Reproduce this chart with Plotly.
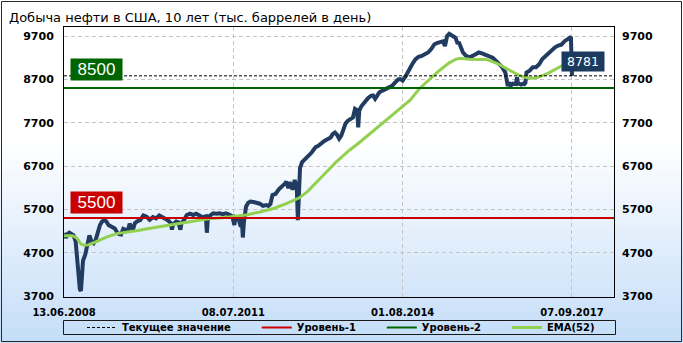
import plotly.graph_objects as go

# ---------------- data ----------------
title_text = "Добыча нефти в США, 10 лет (тыс. баррелей в день)"

# week index since 13.06.2008 and weekly production (thousand barrels/day)
prod_weeks = [0, 2, 3, 5, 7, 9, 11, 12, 13, 14, 15, 16, 17, 18, 20, 22, 24, 26, 28, 30,
              32, 34, 36, 38, 40, 42, 45, 48, 50, 52, 54, 56, 58, 60, 62, 64, 65, 67, 69, 72,
              75, 78, 81, 84, 87, 90, 93, 96, 99, 101, 102, 103, 106, 108, 110, 111, 114, 116, 119, 122,
              125, 128, 131, 134, 135, 136, 139, 141, 144, 147, 150, 153, 156, 159, 161, 162, 165, 167, 168, 169,
              170, 172, 174, 176, 179, 182, 185, 188, 191, 193, 195, 197, 200, 203, 205, 207, 209, 210, 212, 213,
              215, 216, 218, 219, 220, 221, 222, 223, 225, 228, 231, 234, 236, 238, 240, 243, 246, 249, 252, 254,
              256, 258, 260, 262, 264, 266, 268, 271, 273, 275, 277, 278, 279, 281, 284, 287, 290, 292, 294, 296,
              298, 301, 304, 307, 310, 313, 316, 318, 320, 323, 326, 329, 332, 335, 338, 341, 344, 347, 350, 353,
              356, 358, 360, 362, 364, 366, 368, 370, 372, 373, 375, 377, 380, 383, 386, 389, 392, 395, 398, 402,
              405, 408, 411, 414, 417, 419, 421, 422, 424, 427, 428, 429, 430, 432, 434, 435, 436, 437, 440, 443,
              446, 449, 452, 455, 458, 461, 464, 467, 470, 473, 476, 478, 479, 480]
prod_values = [5150, 5040, 5120, 5160, 5130, 5100, 4960, 4700, 4300, 3950, 3850, 3820, 4300, 4520, 4650, 4880, 5100, 4960, 4920, 5000,
               5220, 5340, 5420, 5450, 5420, 5340, 5300, 5260, 5170, 5130, 5120, 5250, 5230, 5180, 5370, 5260, 5220, 5380, 5420, 5450,
               5560, 5530, 5460, 5520, 5490, 5560, 5530, 5480, 5430, 5380, 5230, 5350, 5420, 5400, 5230, 5380, 5480, 5570, 5600, 5570,
               5600, 5560, 5520, 5540, 5160, 5520, 5580, 5610, 5600, 5610, 5590, 5610, 5580, 5540, 5340, 5520, 5480, 5300, 5480, 5050,
               5400, 5760, 5850, 5880, 5870, 5850, 5830, 5780, 5800, 5780, 5820, 6030, 6060, 6160, 6200, 6240, 6300, 6340, 6190, 6320,
               6250, 6150, 6380, 6280, 6160, 5450, 6200, 6650, 6790, 6860, 6940, 7010, 7080, 7140, 7160, 7230, 7280, 7320, 7360, 7440,
               7470, 7420, 7330, 7400, 7560, 7680, 7740, 7780, 7820, 8020, 7990, 7590, 7980, 8080, 8190, 8260, 8320, 8330, 8250, 8310,
               8400, 8440, 8470, 8510, 8550, 8630, 8700, 8700, 8670, 8780, 8930, 9050, 9160, 9220, 9240, 9280, 9320, 9400, 9510, 9540,
               9570, 9575, 9470, 9700, 9750, 9730, 9690, 9660, 9520, 9560, 9440, 9320, 9240, 9210, 9240, 9270, 9320, 9300, 9270, 9240,
               9200, 9130, 9050, 8980, 8860, 8590, 8600, 8550, 8600, 8590, 8750, 8600, 8600, 8580, 8600, 8590, 8620, 8860, 8900, 8980,
               8980, 9050, 9170, 9240, 9320, 9400, 9440, 9480, 9500, 9580, 9630, 9660, 9680, 8781]

# EMA(52)
ema_weeks = [0, 8, 12, 16, 19, 23, 30, 40, 50, 60, 70, 80, 97, 113, 128, 135, 154, 166, 172, 185,
             198, 210, 216, 222, 230, 238, 248, 257, 264, 270, 278, 286, 294, 301, 308, 317, 327, 336, 346, 355,
             364, 370, 374, 383, 393, 399, 405, 410, 415, 420, 424, 430, 434, 440, 446, 452, 456, 462, 468, 474, 480]
ema_values = [5090, 5090, 5040, 4900, 4870, 4880, 4950, 5060, 5140, 5170, 5210, 5260, 5330, 5390, 5450, 5475, 5520, 5546, 5570, 5640,
              5720, 5830, 5900, 5960, 6110, 6300, 6560, 6790, 6950, 7070, 7220, 7380, 7540, 7680, 7840, 8010, 8220, 8490, 8720, 8910,
              9080, 9160, 9185, 9165, 9160, 9160, 9110, 9060, 8990, 8920, 8862, 8790, 8760, 8723, 8735, 8790, 8823, 8900, 8990, 9060, 9120]

level_1 = 5500
level_2 = 8500
current_value = 8781

x_tick_weeks = [0, 160, 320, 480]
x_tick_labels = ["13.06.2008", "08.07.2011", "01.08.2014", "07.09.2017"]
y_tick_values = [3700, 4700, 5700, 6700, 7700, 8700, 9700]
y_tick_labels = ["3700", "4700", "5700", "6700", "7700", "8700", "9700"]

legend_names = ["Текущее значение", "Уровень-1", "Уровень-2", "EMA(52)"]

# ---------------- geometry / style ----------------
W, H = 683, 343
PL, PR, PT, PB = 64, 614, 27, 297          # plot area in px
X_RANGE = [0, 519.7]
Y_RANGE = [3677, 9908]


def px_x(px):
    return (px - PL) / (PR - PL)


def px_y(py):
    return (PB - py) / (PB - PT)


NAVY = "#213c60"
EMA_GREEN = "#92d050"
RED = "#c80000"
DGREEN = "#006400"
GRID = "#c4c4c4"
PAD = "\u00a0" * 6

fig = go.Figure()

fig.add_trace(go.Scatter(x=prod_weeks, y=prod_values, mode="lines",
                         line=dict(color=NAVY, width=4), showlegend=False,
                         hoverinfo="skip"))
fig.add_trace(go.Scatter(x=ema_weeks, y=ema_values, mode="lines",
                         line=dict(color=EMA_GREEN, width=3), name=legend_names[3],
                         legendrank=4))
fig.add_trace(go.Scatter(x=X_RANGE, y=[level_1, level_1], mode="lines",
                         line=dict(color=RED, width=2), name=legend_names[1] + PAD,
                         legendrank=2))
fig.add_trace(go.Scatter(x=X_RANGE, y=[level_2, level_2], mode="lines",
                         line=dict(color=DGREEN, width=2), name=legend_names[2] + PAD,
                         legendrank=3))
fig.add_trace(go.Scatter(x=X_RANGE, y=[current_value, current_value], mode="lines",
                         line=dict(color="#000000", width=1, dash="3px,2px"),
                         name=legend_names[0] + PAD, legendrank=1))
# carrier for the right-hand axis
fig.add_trace(go.Scatter(x=[None], y=[None], yaxis="y2", showlegend=False))

shapes = []
# background gradient (white -> light blue)
g_start, g_end = 140, 343
n = 40
c0 = (255, 255, 255)
c1 = (196, 221, 248)
for i in range(n):
    a = g_start + (g_end - g_start) * i / n
    b = g_start + (g_end - g_start) * (i + 1) / n + 0.6
    t = (i + 0.5) / n
    col = "rgb(%d,%d,%d)" % tuple(round(c0[k] + (c1[k] - c0[k]) * t) for k in range(3))
    shapes.append(dict(type="rect", xref="paper", yref="paper",
                       x0=px_x(-2), x1=px_x(W + 2), y0=px_y(b), y1=px_y(a),
                       fillcolor=col, line=dict(width=0), layer="below"))
# legend frame
shapes.append(dict(type="rect", xref="paper", yref="paper",
                   x0=px_x(63.5), x1=px_x(615.5), y0=px_y(334.5), y1=px_y(320.5),
                   line=dict(color="#1a1a1a", width=1), fillcolor="rgba(0,0,0,0)", layer="above"))
# outer frame
shapes.append(dict(type="rect", xref="paper", yref="paper",
                   x0=px_x(1.5), x1=px_x(681.5), y0=px_y(341.5), y1=px_y(1.5),
                   line=dict(color="#2a2a2a", width=1), fillcolor="rgba(0,0,0,0)", layer="above"))

annotations = [
    dict(text=title_text, xref="paper", yref="paper", x=px_x(7), y=px_y(17),
         xanchor="left", yanchor="middle", showarrow=False,
         font=dict(family="DejaVu Sans", size=13, color="#000000")),
    dict(text=str(level_2), xref="paper", yref="y", x=px_x(70), y=level_2,
         xanchor="left", yanchor="bottom", yshift=7, showarrow=False,
         bgcolor=DGREEN, width=49, height=19, borderpad=1, align="center",
         font=dict(family="Liberation Sans", size=17, color="#ffffff")),
    dict(text=str(level_1), xref="paper", yref="y", x=px_x(70), y=level_1,
         xanchor="left", yanchor="bottom", yshift=4, showarrow=False,
         bgcolor=RED, width=49, height=19, borderpad=1, align="center",
         font=dict(family="Liberation Sans", size=17, color="#ffffff")),
    dict(text=str(current_value), xref="paper", yref="y", x=px_x(561), y=current_value,
         xanchor="left", yanchor="bottom", yshift=4, showarrow=False,
         bgcolor="#1b3a5e", width=40, height=17, borderpad=1, align="center",
         font=dict(family="DejaVu Sans", size=12.5, color="#ffffff")),
]

tick_font = dict(family="DejaVu Sans", size=11, color="#000000", weight="bold")

fig.update_layout(
    width=W, height=H,
    margin=dict(l=PL, r=W - PR, t=PT, b=H - PB, pad=0, autoexpand=False),
    paper_bgcolor="#ffffff",
    plot_bgcolor="rgba(0,0,0,0)",
    showlegend=True,
    legend=dict(orientation="h", x=px_x(341), xanchor="center",
                y=px_y(327.5), yanchor="middle",
                bgcolor="rgba(0,0,0,0)", borderwidth=0,
                font=dict(family="DejaVu Sans", size=10, color="#000000", weight="bold"),
                itemclick=False, itemdoubleclick=False),
    xaxis=dict(range=X_RANGE, tickmode="array", tickvals=x_tick_weeks, ticktext=x_tick_labels,
               showgrid=True, gridcolor=GRID, griddash="4px,3px", gridwidth=1,
               showline=True, linecolor="#000000", linewidth=1, mirror=True,
               ticks="", ticklabelstandoff=6, zeroline=False,
               tickfont=dict(family="DejaVu Sans", size=10, color="#000000", weight="bold")),
    yaxis=dict(range=Y_RANGE, tickmode="array", tickvals=y_tick_values, ticktext=y_tick_labels,
               showgrid=True, gridcolor=GRID, griddash="4px,3px", gridwidth=1,
               showline=True, linecolor="#000000", linewidth=1, mirror=True,
               ticks="", ticklabelstandoff=7, zeroline=False, tickfont=tick_font),
    yaxis2=dict(range=Y_RANGE, overlaying="y", side="right", tickmode="array",
                tickvals=y_tick_values, ticktext=y_tick_labels, showgrid=False,
                showline=False, ticks="", ticklabelstandoff=7, zeroline=False,
                tickfont=tick_font),
    shapes=shapes,
    annotations=annotations,
    hovermode=False,
)

fig.write_html("out.html")
